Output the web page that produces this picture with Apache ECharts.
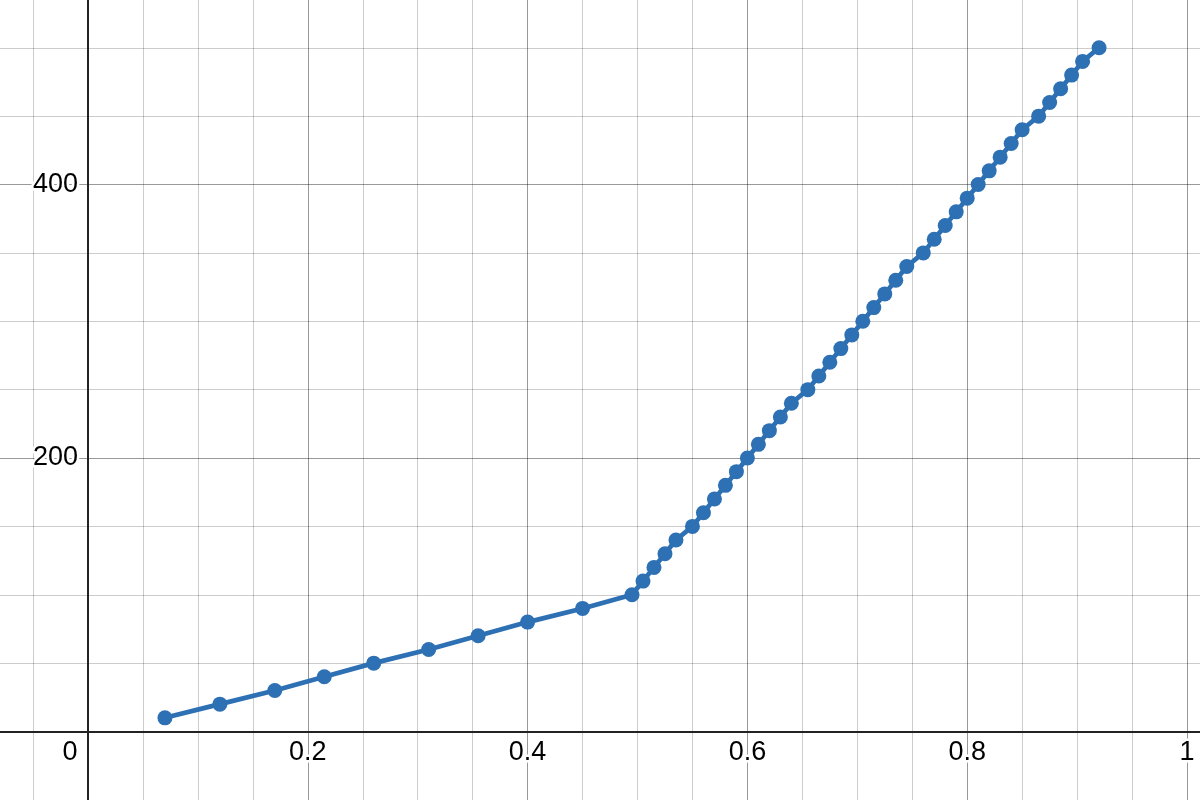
<!DOCTYPE html>
<html>
<head>
<meta charset="utf-8">
<script src="https://cdn.jsdelivr.net/npm/echarts@6/dist/echarts.min.js"></script>
<style>
html,body{margin:0;padding:0;background:#fff;}
#chart{width:1200px;height:800px;}
</style>
</head>
<body>
<div id="chart"></div>
<script>
// ---- data ----
var xValues = [0.07, 0.12, 0.17, 0.215, 0.26, 0.31, 0.355, 0.40, 0.45, 0.495,
  0.505, 0.515, 0.525, 0.535,
  0.55, 0.56, 0.57, 0.58, 0.59, 0.60, 0.61, 0.62, 0.63, 0.64,
  0.655, 0.665, 0.675, 0.685, 0.695, 0.705, 0.715, 0.725, 0.735, 0.745,
  0.76, 0.77, 0.78, 0.79, 0.80, 0.81, 0.82, 0.83, 0.84, 0.85,
  0.865, 0.875, 0.885, 0.895, 0.905, 0.92];
var yValues = [10, 20, 30, 40, 50, 60, 70, 80, 90, 100,
  110, 120, 130, 140,
  150, 160, 170, 180, 190, 200, 210, 220, 230, 240,
  250, 260, 270, 280, 290, 300, 310, 320, 330, 340,
  350, 360, 370, 380, 390, 400, 410, 420, 430, 440,
  450, 460, 470, 480, 490, 500];
var xTickLabels = ['0', '0.2', '0.4', '0.6', '0.8', '1'];
var yTickLabels = ['200', '400'];

var points = xValues.map(function (x, i) { return [x, yValues[i]]; });

var FONT = '"Liberation Sans", Arial, Helvetica, sans-serif';
var FS = 27;
var MINOR = 'rgba(0,0,0,0.2)';
var MAJOR = 'rgba(0,0,0,0.4)';
var AXIS = '#222';
var BLUE = '#2d70b3';

function xFmt(v) {
  var s = String(+v.toFixed(4));
  if (s === '0') return '{o|0}';
  return xTickLabels.indexOf(s) >= 0 ? s : '';
}
function yFmt(v) {
  var s = String(Math.round(v));
  return yTickLabels.indexOf(s) >= 0 ? s : '';
}

var labelStyle = {
  show: true, fontSize: FS, fontFamily: FONT, color: '#000',
  textBorderColor: '#fff', textBorderWidth: 5
};
var hidden = {axisLine: {show: false}, axisTick: {show: false}, axisLabel: {show: false}, splitLine: {show: false}};

var chart = echarts.init(document.getElementById('chart'), null, {renderer: 'canvas'});
chart.setOption({
  animation: false,
  backgroundColor: '#fff',
  grid: [
    {left: -131.8, right: -206.8, top: -89, bottom: -205, containLabel: false, outerBoundsMode: 'none'},
    {left: 88, right: -206.8, top: -89, bottom: 68.5, containLabel: false, outerBoundsMode: 'none'}
  ],
  xAxis: [
    // grid lines
    Object.assign({}, hidden, {
      type: 'value', gridIndex: 0, min: -0.2, max: 1.2, interval: 0.2, z: 0,
      splitLine: {show: true, lineStyle: {color: MAJOR, width: 1}},
      minorTick: {show: false, splitNumber: 4},
      minorSplitLine: {show: true, lineStyle: {color: MINOR, width: 1}}
    }),
    // axis line
    Object.assign({}, hidden, {
      type: 'value', gridIndex: 0, min: -0.2, max: 1.2, interval: 0.2, z: 3, position: 'bottom',
      axisLine: {show: true, onZero: true, onZeroAxisIndex: 0, lineStyle: {color: AXIS, width: 2}}
    }),
    // labels
    Object.assign({}, hidden, {
      type: 'value', gridIndex: 1, min: 0, max: 1.2, interval: 0.2, z: 4, position: 'bottom',
      axisLine: {show: false, onZero: false},
      axisLabel: Object.assign({}, labelStyle, {
        margin: 8, formatter: xFmt, showMinLabel: true, showMaxLabel: true,
        rich: {o: {padding: [0, 36, 0, 0], fontSize: FS, fontFamily: FONT, color: '#000', textBorderColor: '#fff', textBorderWidth: 5}}
      })
    })
  ],
  yAxis: [
    Object.assign({}, hidden, {
      type: 'value', gridIndex: 0, min: -200, max: 600, interval: 200, z: 0,
      splitLine: {show: true, lineStyle: {color: MAJOR, width: 1}},
      minorTick: {show: false, splitNumber: 4},
      minorSplitLine: {show: true, lineStyle: {color: MINOR, width: 1}}
    }),
    Object.assign({}, hidden, {
      type: 'value', gridIndex: 0, min: -200, max: 600, interval: 200, z: 3, position: 'left',
      axisLine: {show: true, onZero: true, onZeroAxisIndex: 0, lineStyle: {color: AXIS, width: 2}}
    }),
    Object.assign({}, hidden, {
      type: 'value', gridIndex: 1, min: 0, max: 600, interval: 200, z: 5, position: 'left',
      axisLine: {show: false, onZero: false},
      axisLabel: Object.assign({}, labelStyle, {margin: 10, formatter: yFmt})
    })
  ],
  series: [{
    type: 'line',
    xAxisIndex: 0,
    yAxisIndex: 0,
    z: 6,
    data: points,
    symbol: 'circle',
    symbolSize: 15,
    showSymbol: true,
    showAllSymbol: true,
    color: BLUE,
    itemStyle: {color: BLUE, borderWidth: 0},
    lineStyle: {color: BLUE, width: 4.7}
  }]
});
</script>
</body>
</html>
